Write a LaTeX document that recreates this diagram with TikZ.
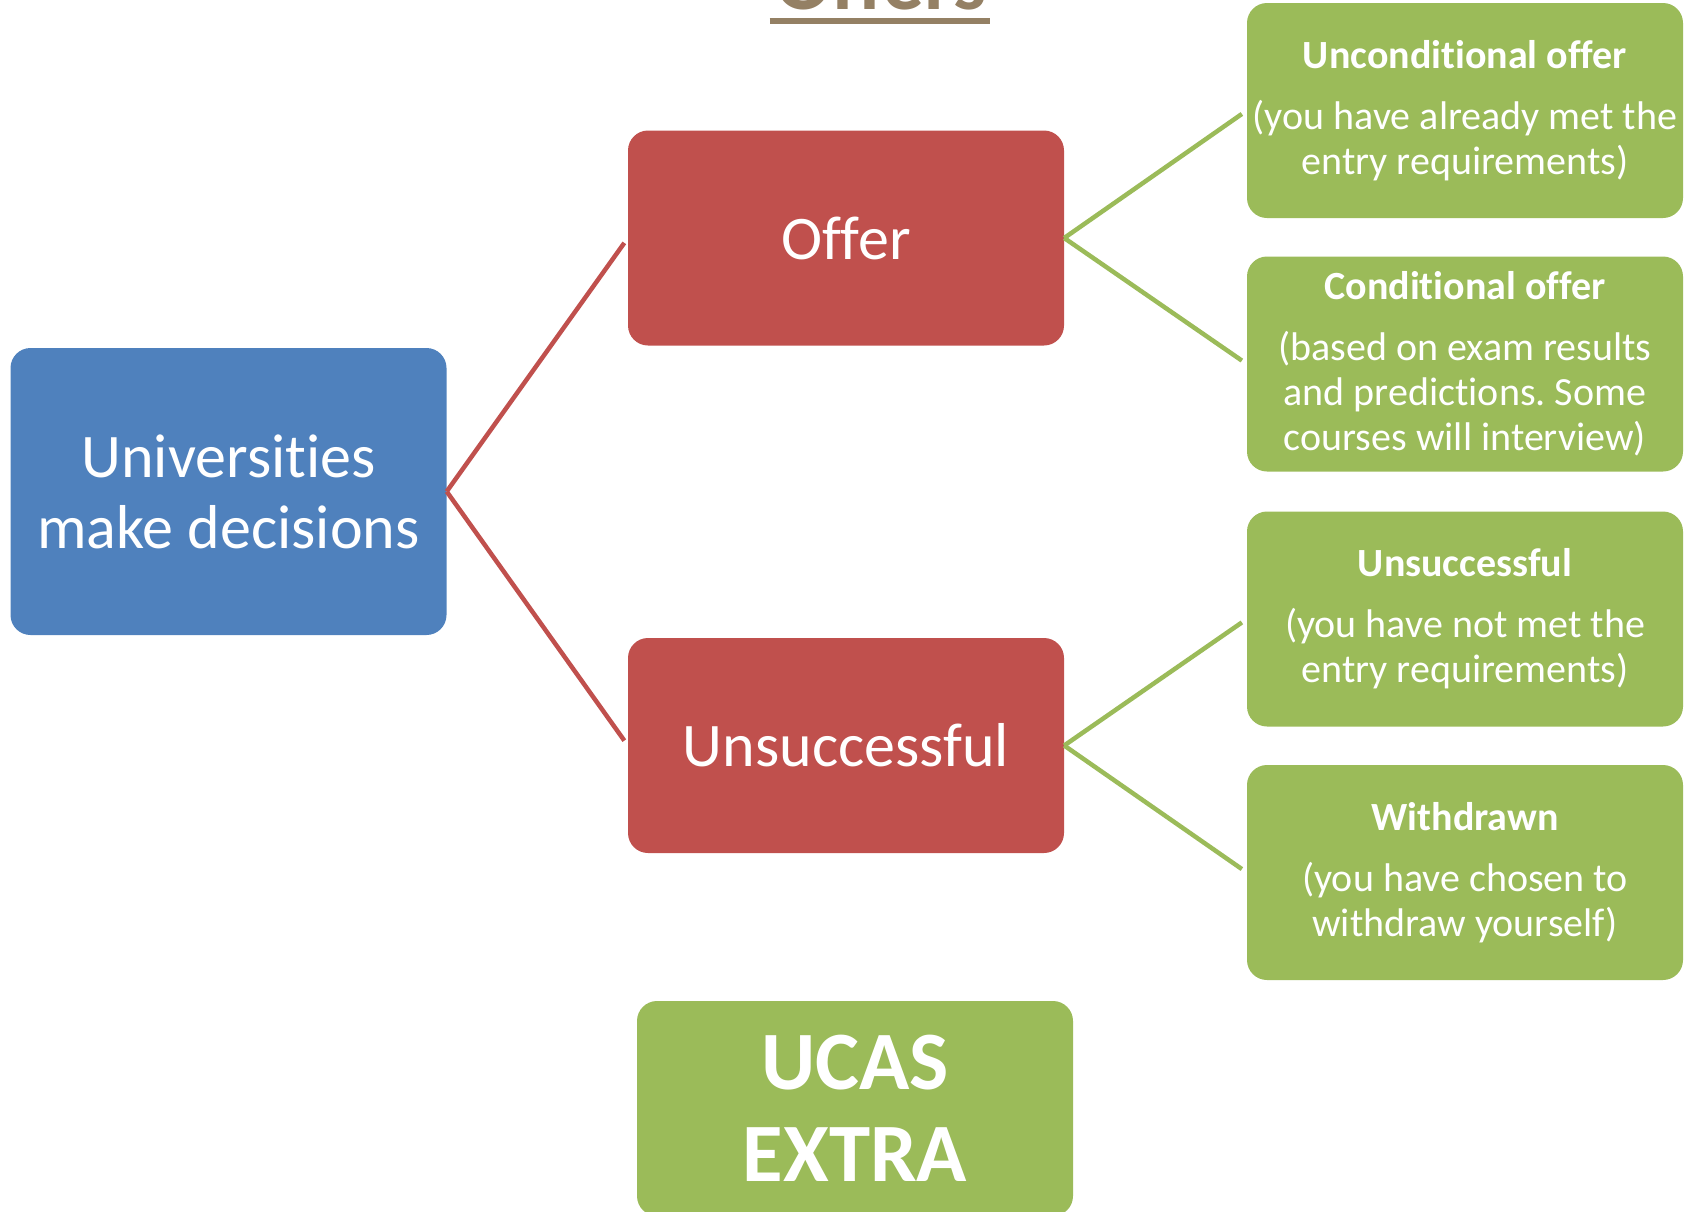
\documentclass[tikz,border=0pt]{standalone}
\usepackage{fontspec}
\setmainfont{Carlito}[RawFeature={-liga,-clig,-calt,-dlig}]
\frenchspacing
\definecolor{ucblue}{RGB}{79,129,189}
\definecolor{ucred}{RGB}{192,80,77}
\definecolor{ucgreen}{RGB}{155,187,89}
\definecolor{uctan}{RGB}{148,128,100}
\begin{document}
\begin{tikzpicture}[x=1pt,y=-1pt,
  box/.style={rounded corners=20pt, text=white, align=center, inner sep=0pt, minimum width=436pt, minimum height=215pt},
  big/.style={box, font=\fontsize{62}{71}\selectfont},
  small/.style={box, fill=ucgreen, font=\fontsize{40}{45}\selectfont},
  link/.style={line width=4.5pt, shorten >=6pt}]
\useasboundingbox (0,0) rectangle (1691,1211);

\node [anchor=base, inner sep=0pt, text=uctan, font=\bfseries\fontsize{83}{90}\selectfont] (title) at (881,9) {Offers};
\draw [uctan, line width=6pt] ([xshift=-6pt,yshift=-12pt]title.base west) -- ([xshift=3pt,yshift=-12pt]title.base east);

\node [big, fill=ucblue, minimum height=287pt] (dec) at (228.5,491.5) {Universities\\make decisions};
\node [big, fill=ucred] (offer) at (846,238) {Offer};
\node [big, fill=ucred] (unsucc) at (846,745.5) {Unsuccessful};

\node [small] (uncond) at (1465,110.5) {\textbf{Unconditional offer}\\[16pt](you have already met the\\entry requirements)};
\node [small] (cond) at (1465,364) {\textbf{Conditional offer}\\[16pt](based on exam results\\and predictions. Some\\courses will interview)};
\node [small] (notmet) at (1465,619) {\textbf{Unsuccessful}\\[16pt](you have not met the\\entry requirements)};
\node [small] (withdrawn) at (1465,872.5) {\textbf{Withdrawn}\\[16pt](you have chosen to\\withdraw yourself)};

\node [box, fill=ucgreen, font=\bfseries\fontsize{83}{92}\selectfont] (extra) at (855,1108.5) {UCAS\\EXTRA};

\draw [link, ucred] (dec.east) -- (offer.west);
\draw [link, ucred] (dec.east) -- (unsucc.west);
\draw [link, ucgreen] (offer.east) -- (uncond.west);
\draw [link, ucgreen] (offer.east) -- (cond.west);
\draw [link, ucgreen] (unsucc.east) -- (notmet.west);
\draw [link, ucgreen] (unsucc.east) -- (withdrawn.west);
\end{tikzpicture}
\end{document}
